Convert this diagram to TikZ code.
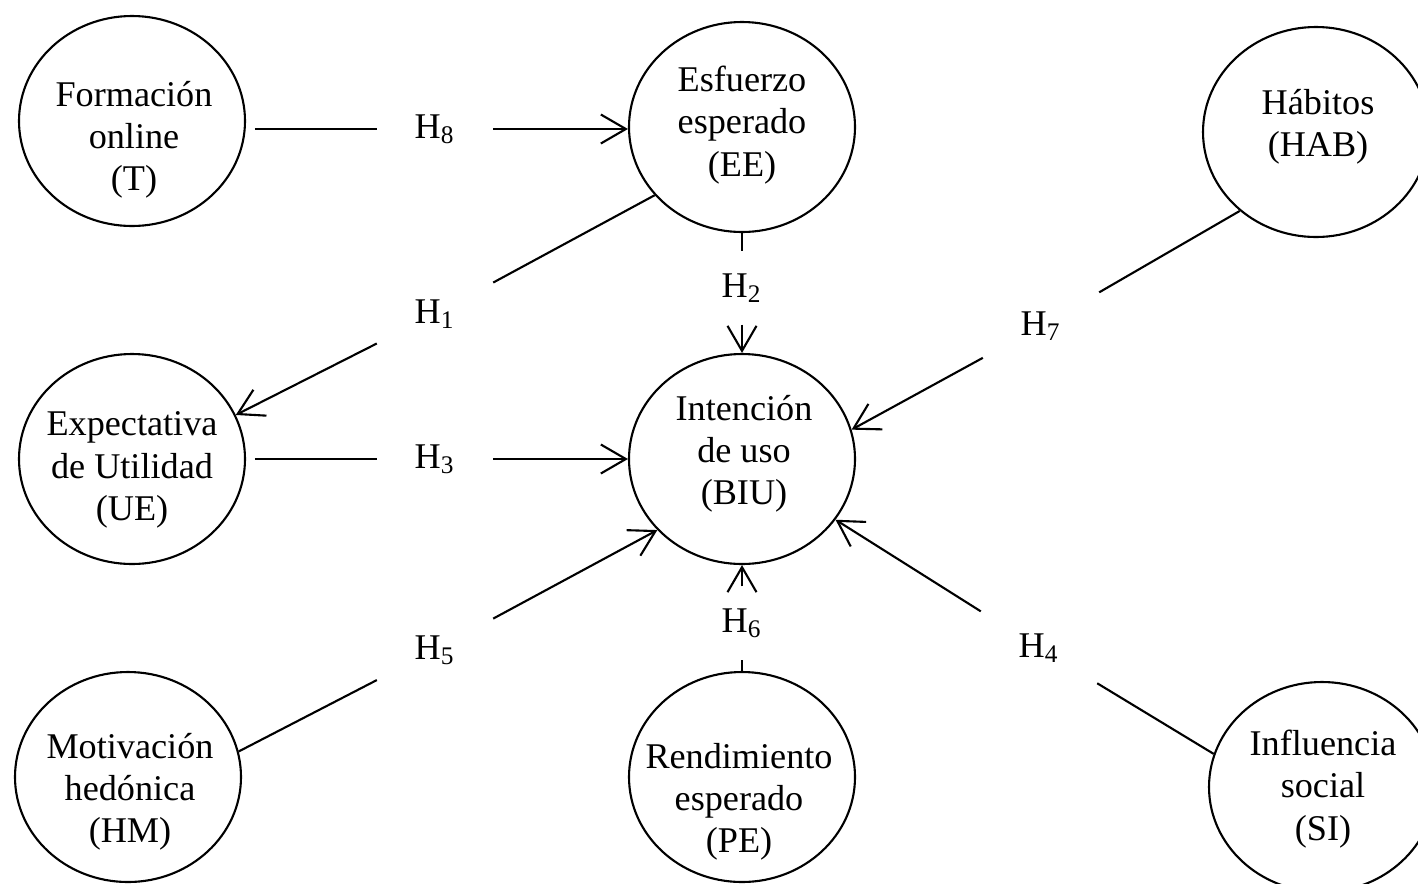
\documentclass[tikz,border=0pt]{standalone}
\usepackage{fontspec}
\setmainfont{Liberation Serif}
\usetikzlibrary{shapes.geometric, arrows.meta}

\begin{document}
\begin{tikzpicture}[
    every node/.style={font=\fontsize{10.3}{12}\selectfont},
    construct/.style={
        draw, ellipse, line width=0.6pt,
        minimum width=2.26cm, minimum height=2.1cm,
        inner sep=0pt
    },
    ctext/.style={align=center, inner sep=0pt},
    hyp/.style={minimum width=1.15cm, minimum height=0.72cm, inner sep=0pt},
    link/.style={line width=0.6pt},
    arrow/.style={line width=0.6pt, -{Straight Barb[length=2.5mm, width=2.9mm]}}
]

% ── CANVAS ─────────────────────────────────────────────────────
\useasboundingbox (0,0) rectangle (14.18,-8.83);

% === LEFT COLUMN ===
\node[construct] (T) at (1.32,-1.21) {};
\node[ctext] (Ttxt) at (1.34,-1.40) {Formación\\online\\(T)};

\node[construct] (UE) at (1.32,-4.59) {};
\node[ctext] (UEtxt) at (1.32,-4.70) {Expectativa\\de Utilidad\\(UE)};

\node[construct] (HM) at (1.28,-7.77) {};
\node[ctext] (HMtxt) at (1.30,-7.92) {Motivación\\hedónica\\(HM)};

% === CENTER COLUMN ===
\node[construct] (EE) at (7.42,-1.27) {};
\node[ctext] (EEtxt) at (7.42,-1.25) {Esfuerzo\\esperado\\(EE)};

\node[construct] (BIU) at (7.42,-4.59) {};
\node[ctext] (BIUtxt) at (7.44,-4.54) {Intención\\de uso\\(BIU)};

\node[construct] (PE) at (7.42,-7.77) {};
\node[ctext] (PEtxt) at (7.39,-8.02) {Rendimiento\\esperado\\(PE)};

% === RIGHT COLUMN ===
\node[construct] (HAB) at (13.16,-1.32) {};
\node[ctext] (HABtxt) at (13.18,-1.27) {Hábitos\\(HAB)};

\node[construct] (SI) at (13.22,-7.87) {};
\node[ctext] (SItxt) at (13.23,-7.89) {Influencia\\social\\(SI)};

% === HYPOTHESES ===
\node[hyp] (H8) at (4.35,-1.29) {H\textsubscript{8}};
\node[hyp] (H1) at (4.35,-3.14) {H\textsubscript{1}};
\node[hyp] (H2) at (7.42,-2.88) {H\textsubscript{2}};
\node[hyp] (H7) at (10.41,-3.26) {H\textsubscript{7}};
\node[hyp] (H3) at (4.35,-4.59) {H\textsubscript{3}};
\node[hyp] (H5) at (4.35,-6.50) {H\textsubscript{5}};
\node[hyp] (H6) at (7.42,-6.23) {H\textsubscript{6}};
\node[hyp] (H4) at (10.39,-6.48) {H\textsubscript{4}};

% ── ARROWS ─────────────────────────────────────────────────────

% T -> EE
\draw[link, shorten <=2.5pt] (T.east |- H8) -- (H8);
\draw[arrow] (H8) -- (EE.west |- H8);

% EE -> UE
\draw[link] (EE.218) -- (H1);
\draw[arrow] (H1) -- (UE.23);

% EE -> BIU
\draw[link] (EE) -- (H2);
\draw[arrow] (H2) -- (BIU);

% UE -> BIU
\draw[link, shorten <=2.5pt] (UE) -- (H3);
\draw[arrow] (H3) -- (BIU);

% HAB -> BIU
\draw[link] (HAB.226) -- (H7);
\draw[arrow] (H7) -- (BIU.15);

% HM -> BIU
\draw[link] (HM.13) -- (H5);
\draw[arrow] (H5) -- (BIU.220);

% PE -> BIU
\draw[link] (PE) -- (H6);
\draw[arrow] (H6) -- (BIU);

% SI -> BIU
\draw[link] (SI.163) -- (H4);
\draw[arrow] (H4) -- (BIU.327);

\end{tikzpicture}
\end{document}
